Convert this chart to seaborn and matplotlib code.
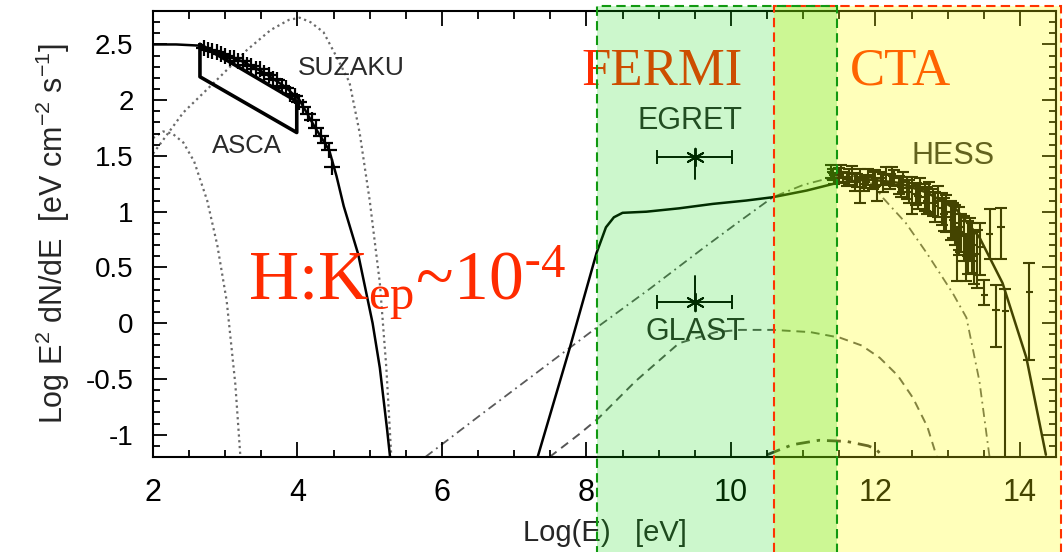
import numpy as np
import pandas as pd
import matplotlib
matplotlib.use("Agg")
import matplotlib.pyplot as plt
import seaborn as sns
from matplotlib.patches import Rectangle
from matplotlib.transforms import blended_transform_factory
from matplotlib.ticker import FixedLocator

# ---------------- data ----------------
# total model, synchrotron part
sync_x = [2.0, 2.32, 2.63, 2.93, 3.23, 3.53, 3.83, 4.03, 4.23, 4.44, 4.54, 4.64, 4.84, 5.04, 5.14, 5.24, 5.29]
sync_y = [2.50, 2.50, 2.49, 2.42, 2.35, 2.25, 2.12, 2.00, 1.77, 1.55, 1.32, 1.05, 0.62, 0.00, -0.40, -0.95, -1.25]
# total model, gamma-ray part
tot_x = [7.32, 7.77, 8.14, 8.27, 8.38, 8.50, 8.83, 9.28, 9.75, 10.21, 10.58, 11.05, 11.48,
         11.91, 12.31, 12.72, 13.12, 13.44, 13.76, 14.09, 14.36]
tot_y = [-1.21, -0.22, 0.63, 0.86, 0.95, 0.99, 1.00, 1.03, 1.07, 1.10, 1.13, 1.19, 1.26,
         1.29, 1.26, 1.17, 1.02, 0.77, 0.36, -0.31, -1.18]
# dotted components
dot1_x = [2.0, 2.42, 2.88, 3.30, 3.63, 3.88, 4.03, 4.18, 4.36, 4.54, 4.72, 4.86, 5.0, 5.14, 5.23, 5.30]
dot1_y = [1.52, 1.89, 2.18, 2.45, 2.63, 2.72, 2.74, 2.70, 2.61, 2.39, 2.16, 1.71, 1.10, 0.36, -0.40, -1.21]
dot2_x = [2.0, 2.14, 2.27, 2.42, 2.57, 2.75, 2.89, 3.02, 3.14, 3.21]
dot2_y = [1.66, 1.72, 1.70, 1.62, 1.45, 1.10, 0.70, 0.20, -0.55, -1.20]
# inverse-Compton (dash-dot)
ic_x = [5.77, 6.56, 7.36, 8.14, 8.88, 9.59, 10.09, 10.58, 11.0, 11.41, 11.71, 11.96, 12.11,
        12.42, 12.72, 13.07, 13.26, 13.44, 13.58]
ic_y = [-1.2, -0.81, -0.42, -0.04, 0.31, 0.66, 0.90, 1.13, 1.24, 1.31, 1.32, 1.25, 1.12,
        0.90, 0.62, 0.27, 0.05, -0.52, -1.2]
# pion decay (dashed)
pi_x = [7.49, 7.91, 8.17, 8.68, 9.28, 9.79, 10.12, 10.58, 11.10, 11.51, 11.81, 12.06, 12.31, 12.52, 12.72, 12.85]
pi_y = [-1.2, -0.99, -0.85, -0.52, -0.18, -0.08, -0.06, -0.06, -0.08, -0.13, -0.2, -0.31, -0.47, -0.67, -0.93, -1.2]
# small bremsstrahlung bump
brem_x = [10.50, 10.85, 11.22, 11.60, 11.90, 12.01, 12.08]
brem_y = [-1.18, -1.09, -1.05, -1.06, -1.10, -1.13, -1.18]

# ASCA bow-tie
asca_x = [2.65, 3.99, 3.99, 2.65, 2.65]
asca_y = [2.50, 1.99, 1.71, 2.21, 2.50]
# SUZAKU points
suz_x = [2.70, 2.76, 2.82, 2.88, 2.94, 3.00, 3.06, 3.12, 3.18, 3.24, 3.30, 3.36, 3.42, 3.48, 3.54, 3.60,
         3.66, 3.72, 3.78, 3.84, 3.90, 3.96, 4.02, 4.08, 4.14, 4.20, 4.26, 4.32, 4.38, 4.44, 4.48]
suz_y = [2.47, 2.45, 2.44, 2.43, 2.41, 2.40, 2.38, 2.38, 2.35, 2.35, 2.32, 2.31, 2.28, 2.28, 2.24, 2.23,
         2.19, 2.18, 2.13, 2.11, 2.06, 2.04, 1.98, 1.94, 1.88, 1.82, 1.75, 1.68, 1.62, 1.55, 1.40]
# EGRET / GLAST
egret_x, egret_y, egret_xlo, egret_xhi, egret_tail = 9.50, 1.49, 8.98, 10.01, 1.29
glast_x, glast_y, glast_xlo, glast_xhi, glast_tail = 9.50, 0.19, 8.98, 10.01, 0.42
# HESS points
hess_x = [11.38, 11.43, 11.49, 11.55, 11.61, 11.67, 11.72, 11.78, 11.84, 11.90, 11.96, 12.02, 12.08,
          12.14, 12.20, 12.26, 12.32, 12.38, 12.44, 12.50, 12.56, 12.62, 12.68, 12.74, 12.80, 12.86,
          12.92, 12.98, 13.04, 13.10, 13.16, 13.22, 13.28, 13.34, 13.40, 13.51, 13.58, 13.67, 13.74,
          13.80, 14.13,
          11.41, 11.52, 11.64, 11.75, 11.87, 11.99, 12.11, 12.23, 12.35, 12.47, 12.59, 12.71, 12.83,
          12.95, 13.07, 13.13, 13.19, 13.25, 13.31, 13.37, 13.45]
hess_y = [1.36, 1.30, 1.33, 1.31, 1.29, 1.34, 1.27, 1.30, 1.25, 1.31, 1.28, 1.22, 1.30,
          1.33, 1.27, 1.30, 1.24, 1.27, 1.21, 1.23, 1.16, 1.20, 1.13, 1.15, 1.08, 1.10,
          1.03, 1.00, 0.95, 0.90, 0.86, 0.78, 0.72, 0.70, 0.62, 0.25, 0.80, 0.12, 0.86,
          0.11, 0.28,
          1.33, 1.36, 1.31, 1.28, 1.27, 1.30, 1.26, 1.32, 1.22, 1.18, 1.14, 1.10, 1.05,
          0.98, 0.93, 0.66, 0.82, 0.60, 0.76, 0.60, 0.68]
hess_lo = [0.06, 0.05, 0.06, 0.05, 0.06, 0.07, 0.08, 0.22, 0.06, 0.07, 0.08, 0.12, 0.06,
           0.07, 0.07, 0.07, 0.08, 0.09, 0.10, 0.25, 0.10, 0.12, 0.12, 0.15, 0.12, 0.15,
           0.15, 0.18, 0.20, 0.20, 0.25, 0.22, 0.28, 0.25, 0.30, 0.09, 0.22, 0.33, 0.28,
           1.40, 0.61,
           0.05, 0.06, 0.07, 0.06, 0.06, 0.07, 0.08, 0.08, 0.09, 0.10, 0.12, 0.12, 0.14,
           0.15, 0.17, 0.28, 0.18, 0.22, 0.20, 0.25, 0.25]
hess_hi = [0.06, 0.05, 0.06, 0.05, 0.06, 0.07, 0.08, 0.08, 0.06, 0.07, 0.08, 0.08, 0.06,
           0.07, 0.07, 0.07, 0.08, 0.09, 0.10, 0.08, 0.10, 0.10, 0.12, 0.12, 0.12, 0.13,
           0.14, 0.15, 0.15, 0.16, 0.18, 0.18, 0.20, 0.20, 0.22, 0.14, 0.22, 0.22, 0.17,
           0.20, 0.26,
           0.05, 0.06, 0.07, 0.06, 0.06, 0.07, 0.08, 0.08, 0.09, 0.10, 0.11, 0.12, 0.13,
           0.14, 0.15, 0.20, 0.16, 0.20, 0.18, 0.22, 0.22]

# instrument bands
fermi_band = [8.15, 11.47]
cta_band = [10.59, 14.57]

ytick_vals = [-1, -0.5, 0, 0.5, 1, 1.5, 2, 2.5]
ytick_labels = ["-1", "-0.5", "0", "0.5", "1", "1.5", "2", "2.5"]
xtick_vals = [2, 4, 6, 8, 10, 12, 14]
xtick_labels = ["2", "4", "6", "8", "10", "12", "14"]
x_minor_step = 0.5
y_minor_step = 0.1

# ---------------- style ----------------
sns.set_style("white")
plt.rcParams.update({
    "font.family": ["Liberation Sans", "DejaVu Sans"],
    "mathtext.default": "regular",
    "axes.unicode_minus": False,
    "axes.edgecolor": "black",
    "axes.linewidth": 1.5,
    "xtick.color": "black", "ytick.color": "black",
})

fig = plt.figure(figsize=(10.64, 5.52), dpi=100)
ax = fig.add_axes([153 / 1064, 1 - 457 / 552, (1056 - 153) / 1064, (457 - 11) / 552])

def line(x, y, **kw):
    sns.lineplot(x=x, y=y, sort=False, estimator=None, ax=ax, legend=False, **kw)

line(dot1_x, dot1_y, color="#6a6a6a", lw=1.6, linestyle=(0, (1, 1.6)))
line(dot2_x, dot2_y, color="#6a6a6a", lw=1.6, linestyle=(0, (1, 1.6)))
line(ic_x, ic_y, color="#5a5a5a", lw=1.3, linestyle=(0, (5, 2.5, 1, 2.5)))
line(pi_x, pi_y, color="#555555", lw=1.4, linestyle=(0, (4.5, 3)))
line(brem_x, brem_y, color="#333333", lw=2.0, linestyle=(0, (5, 2.5, 1.2, 2.5)))
line(sync_x, sync_y, color="black", lw=1.8)
line(tot_x, tot_y, color="black", lw=1.8)
line(asca_x, asca_y, color="black", lw=2.6)

sns.scatterplot(x=suz_x, y=suz_y, marker="+", s=120, color="black", linewidth=1.6, ax=ax, legend=False, zorder=4)

ax.errorbar(hess_x, hess_y, yerr=[hess_lo, hess_hi], fmt="none", ecolor="black",
            elinewidth=1.5, capsize=4.5, capthick=1.5, zorder=4)
ax.errorbar(hess_x, hess_y, xerr=0.05, fmt="none", ecolor="black", elinewidth=1.5, capsize=0, zorder=4)

for px_, py_, xlo, xhi, tail in [(egret_x, egret_y, egret_xlo, egret_xhi, egret_tail),
                                 (glast_x, glast_y, glast_xlo, glast_xhi, glast_tail)]:
    ax.errorbar([px_], [py_], xerr=[[px_ - xlo], [xhi - px_]], fmt="none", ecolor="black",
                elinewidth=1.4, capsize=5, capthick=1.4)
    line([px_, px_], [py_, tail], color="black", lw=1.4)
    sns.scatterplot(x=[px_], y=[py_], marker=(6, 2, 0), s=160, color="black", linewidth=1.4,
                    ax=ax, legend=False)

xlim = (2, 14.5)
ylim = (-1.2, 2.8)
ax.set_xlim(*xlim)
ax.set_ylim(*ylim)
ax.xaxis.set_major_locator(FixedLocator(xtick_vals))
ax.set_xticklabels(xtick_labels)
ax.yaxis.set_major_locator(FixedLocator(ytick_vals))
ax.set_yticklabels(ytick_labels)
ax.minorticks_off()
ax.tick_params(which="both", length=0)
ax.tick_params(axis="x", labelsize=22, pad=15)
ax.tick_params(axis="y", labelsize=20, pad=14)

# inward tick marks on all four sides, drawn as line collections at the tick positions
x_minor = [v for v in np.arange(xlim[0], xlim[1] + 1e-9, x_minor_step) if min(abs(v - t) for t in xtick_vals) > 1e-6]
y_minor = [v for v in np.arange(-1.2, ylim[1] + 1e-9, y_minor_step) if min(abs(v - t) for t in ytick_vals) > 1e-6]
ax_h_px, ax_w_px = 446.0, 903.0
tick_kw = dict(color="black", lw=1.3, clip_on=False, zorder=5)
xt = ax.get_xaxis_transform()
yt = ax.get_yaxis_transform()
for vals, L in [(xtick_vals, 15 / ax_h_px), (x_minor, 7.5 / ax_h_px)]:
    ax.vlines(vals, 0, L, transform=xt, **tick_kw)
    ax.vlines(vals, 1 - L, 1, transform=xt, **tick_kw)
for vals, L in [(ytick_vals, 14 / ax_w_px), (y_minor, 7 / ax_w_px)]:
    ax.hlines(vals, 0, L, transform=yt, **tick_kw)
    ax.hlines(vals, 1 - L, 1, transform=yt, **tick_kw)

ax.set_xlabel("Log(E)   [eV]", fontsize=21, labelpad=8)
ax.set_ylabel(r"Log E$^2$ dN/dE  [eV cm$^{-2}$ s$^{-1}$]", fontsize=22, labelpad=10)

lab = dict(color="#2a2a2a", ha="center", va="center")
ax.text(4.75, 2.29, "SUZAKU", fontsize=19, **lab)
ax.text(3.30, 1.59, "ASCA", fontsize=18.5, **lab)
ax.text(9.43, 1.81, "EGRET", fontsize=22, **lab)
ax.text(9.51, -0.08, "GLAST", fontsize=22, **lab)
ax.text(13.08, 1.50, "HESS", fontsize=22, **lab)

serif = ["Liberation Serif", "DejaVu Serif"]
red = "#ff2b00"
ax.text(9.05, 2.14, "FERMI", fontsize=38, family=serif, color=red, ha="center", va="baseline", zorder=6, clip_on=False)
ax.text(12.35, 2.14, "CTA", fontsize=38, family=serif, color=red, ha="center", va="baseline", zorder=6)
ax.text(3.31, 0.21, r"H:K$_{ep}$~10$^{\text{-}4}$", fontsize=50, family=serif, color=red,
        ha="left", va="baseline", zorder=6)

# ---------------- instrument band overlays ----------------
trans = blended_transform_factory(ax.transData, fig.transFigure)
top = 1 - 6 / 552
for band, fc, a, z in [(cta_band, (1.0, 1.0, 0.0), 0.27, 10), (fermi_band, (0.0, 0.86, 0.0), 0.2, 11)]:
    fig.add_artist(Rectangle((band[0], -0.05), band[1] - band[0], top + 0.05, transform=trans,
                             facecolor=fc, alpha=a, edgecolor="none", zorder=z))
for band, ec, z in [(cta_band, "#ff3300", 12), (fermi_band, "#119911", 13)]:
    fig.add_artist(Rectangle((band[0], -0.05), band[1] - band[0], top + 0.05, transform=trans,
                             fill=False, edgecolor=ec, lw=1.5, linestyle=(0, (4.5, 2.5)), zorder=z))

fig.savefig("out.png", dpi=100, facecolor="white")
